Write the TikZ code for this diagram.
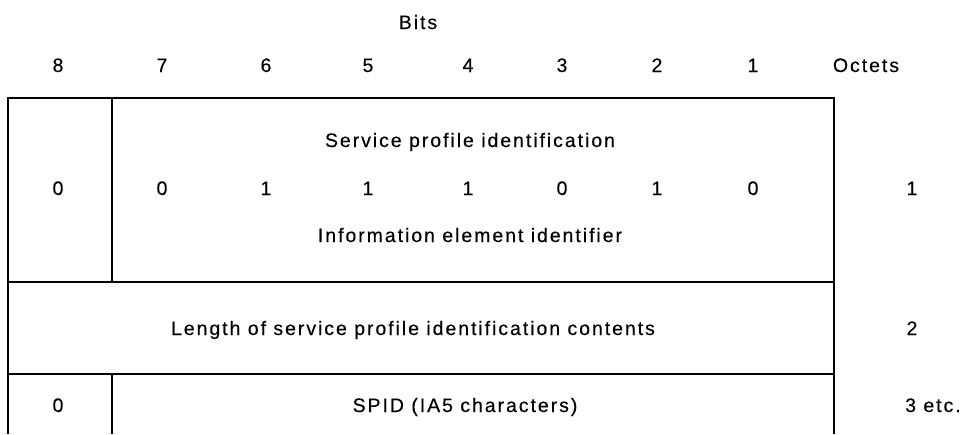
\documentclass[tikz,border=0pt]{standalone}
\usepackage{fontspec}
\setmainfont{Liberation Sans}[LetterSpace=10, FakeBold=0.3]
\usepackage{tikz}

\begin{document}
\begin{tikzpicture}[x=1pt, y=-1pt]
	\tikzstyle{lbl} = [inner sep=0pt, text height=14pt, text depth=0pt, 
	font=\fontsize{19.5}{22}\selectfont]
	\tikzstyle{frame} = [line width=1.4pt, black]
	\useasboundingbox (0,0) rectangle (965,434);
	% corners of the octet table
	\coordinate (tl) at (8,98);
	\coordinate (tr) at (834,98);
	\coordinate (bl) at (8,434);
	\coordinate (br) at (834,434);
	\coordinate (splitTop) at (112,98);
	\coordinate (splitOne) at (112,282);
	\coordinate (splitTwo) at (112,374);
	\coordinate (splitBot) at (112,434);
	\coordinate (rowOneL) at (8,282);
	\coordinate (rowOneR) at (834,282);
	\coordinate (rowTwoL) at (8,374);
	\coordinate (rowTwoR) at (834,374);
	% header
	\node (bits) [lbl] at (418,22) {Bits};
	\foreach \b/\x in {8/58,7/162,6/266,5/368,4/468,3/562,2/657,1/753}
		\node (bit\b) [lbl] at (\x,65) {\b};
	\node (octets) [lbl] at (866,65) {Octets};
	% octet 1
	\node (serviceProfile) [lbl] at (470,140) {Service profile identification};
	\foreach \b/\v in {8/0,7/0,6/1,5/1,4/1,3/0,2/1,1/0}
		\node (val\b) [lbl] at (bit\b |- 0,188) {\v};
	\node (ieIdentifier) [lbl] at (470,235) {Information element identifier};
	\node (octetOne) [lbl] at (912,188) {1};
	% octet 2
	\node (length) [lbl] at (413,328) {Length of service profile 
	identification contents};
	\node (octetTwo) [lbl] at (912,328) {2};
	% octet 3
	\node (spare) [lbl] at (val8 |- 0,405) {0};
	\node (spid) [lbl] at (465,405) {SPID (IA5 characters)};
	\node (octetThree) [lbl, anchor=west] at (905,405) {3 etc.};
	% table lines
	\draw [frame] (bl) -- (tl) -- (tr) -- (br);
	\draw [frame] (splitTop) -- (splitOne);
	\draw [frame] (splitTwo) -- (splitBot);
	\draw [frame] (rowOneL) -- (rowOneR);
	\draw [frame] (rowTwoL) -- (rowTwoR);
\end{tikzpicture}
\end{document}
